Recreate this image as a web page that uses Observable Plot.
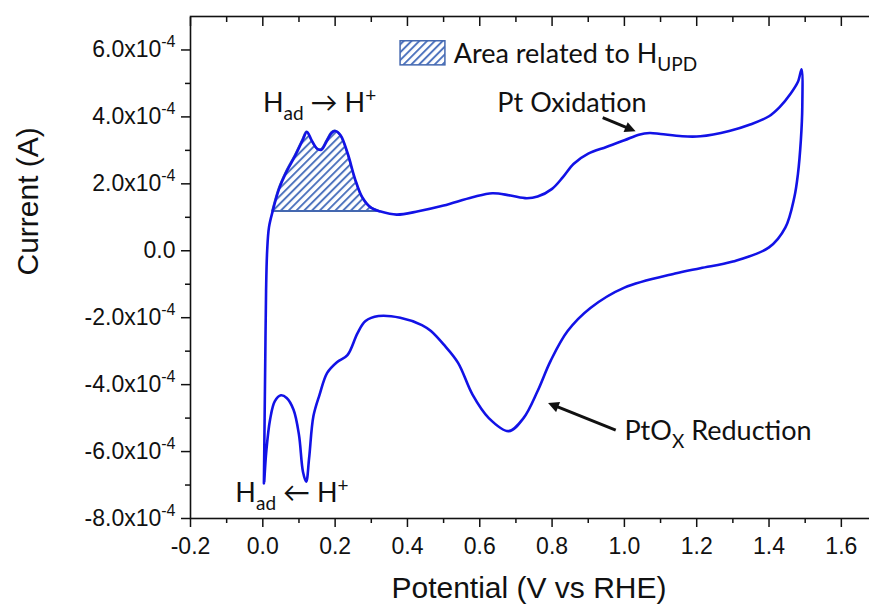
<!DOCTYPE html>
<html><head><meta charset="utf-8">
<script src="https://cdn.jsdelivr.net/npm/d3@7"></script>
<script src="https://cdn.jsdelivr.net/npm/@observablehq/plot@0.6"></script>
<style>
html,body{margin:0;padding:0;background:#fff;overflow:hidden}
#wrap{width:869px;height:607px;overflow:hidden}
#wrap svg{max-width:none !important;width:877px;height:607px}
</style></head><body><div id="wrap"></div>
<script>
// Anodic (forward) scan: potential (V vs RHE) and current (A)
const potentialAnodic = [0.003,0.005,0.007,0.009,0.012,0.017,0.027,0.045,0.065,0.09,0.11,0.122,0.135,0.15,0.162,0.177,0.19,0.2,0.215,0.235,0.255,0.275,0.3,0.326,0.37,0.43,0.5,0.58,0.635,0.685,0.73,0.76,0.8,0.83,0.86,0.9,0.95,1.0,1.04,1.07,1.1,1.16,1.21,1.29,1.35,1.4,1.43,1.46,1.48,1.49];
const currentAnodic = [-6.95e-4,-5.0e-4,-3.0e-4,-1.2e-4,0.0,0.7e-4,1.17e-4,1.85e-4,2.35e-4,2.85e-4,3.3e-4,3.55e-4,3.3e-4,3.05e-4,3.02e-4,3.28e-4,3.52e-4,3.58e-4,3.45e-4,2.9e-4,2.15e-4,1.6e-4,1.28e-4,1.17e-4,1.08e-4,1.18e-4,1.35e-4,1.6e-4,1.72e-4,1.65e-4,1.57e-4,1.62e-4,1.85e-4,2.2e-4,2.6e-4,2.9e-4,3.1e-4,3.3e-4,3.47e-4,3.52e-4,3.49e-4,3.42e-4,3.42e-4,3.58e-4,3.78e-4,4.02e-4,4.3e-4,4.7e-4,5.05e-4,5.42e-4];
// Cathodic (reverse) scan
const potentialCathodic = [1.492,1.488,1.48,1.47,1.445,1.4,1.3,1.21,1.14,1.0,0.906,0.843,0.796,0.76,0.721,0.68,0.625,0.58,0.54,0.5,0.465,0.44,0.38,0.32,0.284,0.262,0.234,0.205,0.178,0.157,0.14,0.128,0.12,0.111,0.1,0.085,0.066,0.05,0.033,0.02,0.01,0.004];
const currentCathodic = [4.3e-4,3.3e-4,2.3e-4,1.6e-4,0.69e-4,0.1e-4,-0.32e-4,-0.52e-4,-0.68e-4,-1.1e-4,-1.71e-4,-2.4e-4,-3.29e-4,-4.19e-4,-5.0e-4,-5.39e-4,-5.0e-4,-4.3e-4,-3.35e-4,-2.8e-4,-2.4e-4,-2.22e-4,-2.0e-4,-1.95e-4,-2.1e-4,-2.46e-4,-3.12e-4,-3.33e-4,-3.65e-4,-4.3e-4,-4.94e-4,-6.2e-4,-6.9e-4,-6.6e-4,-5.5e-4,-4.75e-4,-4.4e-4,-4.32e-4,-4.5e-4,-5.05e-4,-5.95e-4,-6.9e-4];
// H_UPD shaded region
const hupdBaseline = 1.17e-4;
const hupdRange = [0.027, 0.326];
// Ticks
const xMajorTicks = [-0.2,0,0.2,0.4,0.6,0.8,1.0,1.2,1.4,1.6];
const xMinorTicks = [-0.1,0.1,0.3,0.5,0.7,0.9,1.1,1.3,1.5];
const yMajorTicks = [-8e-4,-6e-4,-4e-4,-2e-4,0,2e-4,4e-4,6e-4];
const yMinorTicks = [-7e-4,-5e-4,-3e-4,-1e-4,1e-4,3e-4,5e-4];
// Annotations (centred labels, then left-aligned labels)
const centredText = ["H_{ad} → H^{+}", "Pt Oxidation"];
const centredX = [0.157, 0.855];
const centredY = [4.4e-4, 4.4e-4];
const leftText = ["PtO_{X} Reduction", "H_{ad} ← H^{+}"];
const leftX = [1.0, -0.076];
const leftY = [-5.39e-4, -7.25e-4];
const arrowX1 = [0.94, 0.976];
const arrowY1 = [3.98e-4, -5.36e-4];
const arrowX2 = [1.02, 0.8];
const arrowY2 = [3.62e-4, -4.6e-4];
// Legend
const legendLabel = ["Area related to H_{UPD}"];
const legendBoxX = [0.381, 0.505];
const legendBoxY = [5.54e-4, 6.26e-4];
const legendTextX = 0.528;
const legendTextY = 5.87e-4;

const cv = potentialAnodic.map((x, i) => ({x, y: currentAnodic[i]}))
  .concat(potentialCathodic.map((x, i) => ({x, y: currentCathodic[i]})));
const hupd = potentialAnodic.map((x, i) => ({x, y: currentAnodic[i], base: hupdBaseline}))
  .filter(d => d.x >= hupdRange[0] && d.x <= hupdRange[1]);
const centred = centredText.map((t, i) => ({t, x: centredX[i], y: centredY[i]}));
const lefts = leftText.map((t, i) => ({t, x: leftX[i], y: leftY[i]}));
const arrows = arrowX1.map((x1, i) => ({x1, y1: arrowY1[i], x2: arrowX2[i], y2: arrowY2[i]}));

const fmtX = d => (d < -1e-9 ? "-" : "") + Math.abs(d).toFixed(1);
const fmtY = d => Math.abs(d) < 1e-12 ? "0.0" : (d * 1e4).toFixed(1) + "x10^{-4}";
const none = () => "";
const ann = {fontFamily: "Lato, 'Open Sans', sans-serif", fontSize: 27, fill: "#111"};

const chart = Plot.plot({
  width: 877, height: 607,
  marginLeft: 190, marginRight: 0, marginTop: 16, marginBottom: 89,
  x: {domain: [-0.2, 1.7]},
  y: {domain: [-8e-4, 7e-4]},
  style: {fontFamily: "'Liberation Sans', Arial, sans-serif", fontSize: "23px", color: "#111", background: "#fff", maxWidth: "none"},
  marks: [
    Plot.areaY(hupd, {x: "x", y1: "base", y2: "y", curve: "catmull-rom", fill: "url(#hatch)", stroke: "#4468b0", strokeWidth: 2}),
    Plot.line(cv, {x: "x", y: "y", curve: "catmull-rom", stroke: "#1212e6", strokeWidth: 2.6}),
    Plot.frame({stroke: "#111", strokeWidth: 1.6}),
    Plot.axisX(xMajorTicks, {anchor: "bottom", tickSize: 9, tickPadding: 10, tickFormat: fmtX, label: null, strokeWidth: 1.5, fontSize: 23}),
    Plot.axisX(xMinorTicks, {anchor: "bottom", tickSize: 5, tickFormat: none, label: null, strokeWidth: 1.5}),
    Plot.axisX(xMajorTicks, {anchor: "top", tickSize: 9, dy: 9, tickFormat: none, label: null, strokeWidth: 1.5}),
    Plot.axisX(xMinorTicks, {anchor: "top", tickSize: 5, dy: 5, tickFormat: none, label: null, strokeWidth: 1.5}),
    Plot.axisY(yMajorTicks, {anchor: "left", tickSize: 9, tickPadding: 6, tickFormat: fmtY, label: null, strokeWidth: 1.5, fontSize: 23}),
    Plot.axisY(yMinorTicks, {anchor: "left", tickSize: 5, tickFormat: none, label: null, strokeWidth: 1.5}),
    Plot.axisY(yMajorTicks, {anchor: "right", tickSize: 9, dx: -9, tickFormat: none, label: null, strokeWidth: 1.5}),
    Plot.axisY(yMinorTicks, {anchor: "right", tickSize: 5, dx: -5, tickFormat: none, label: null, strokeWidth: 1.5}),
    Plot.text(["Current (A)"], {text: d => d, frameAnchor: "left", rotate: -90, dx: -162, dy: 8, fontSize: 30, fill: "#111"}),
    Plot.text(["Potential (V vs RHE)"], {text: d => d, frameAnchor: "bottom", dx: -5, dy: 79, fontSize: 30, fill: "#111"}),
    Plot.link(arrows, {x1: "x1", y1: "y1", x2: "x2", y2: "y2", stroke: "#111", strokeWidth: 3}),
    Plot.text(centred, {x: "x", y: "y", text: "t", textAnchor: "middle", ...ann}),
    Plot.text(lefts, {x: "x", y: "y", text: "t", textAnchor: "start", ...ann}),
    Plot.rect([0], {x1: () => legendBoxX[0], x2: () => legendBoxX[1], y1: () => legendBoxY[0], y2: () => legendBoxY[1], fill: "url(#hatch)", stroke: "#4468b0", strokeWidth: 1.5}),
    Plot.text(legendLabel, {x: () => legendTextX, y: () => legendTextY, text: d => d, textAnchor: "start", ...ann})
  ]
});

const svg = chart.tagName.toLowerCase() === "svg" ? chart : chart.querySelector("svg");
const NS = "http://www.w3.org/2000/svg";
const defs = d3.select(svg).insert("defs", ":first-child");
const pat = defs.append("pattern").attr("id", "hatch").attr("patternUnits", "userSpaceOnUse")
  .attr("width", 5.5).attr("height", 5.5).attr("patternTransform", "rotate(45)");
pat.append("rect").attr("width", 5.5).attr("height", 5.5).attr("fill", "#fff");
pat.append("line").attr("x1", 1).attr("y1", 0).attr("x2", 1).attr("y2", 5.5).attr("stroke", "#4a70bd").attr("stroke-width", 1.9);
defs.append("marker").attr("id", "ahead").attr("viewBox", "0 0 10 10").attr("refX", 6).attr("refY", 5)
  .attr("markerWidth", 4.2).attr("markerHeight", 3.6).attr("orient", "auto").attr("markerUnits", "strokeWidth")
  .append("path").attr("d", "M0,0 L10,5 L0,10 z").attr("fill", "#111");
d3.select(svg).selectAll('g[aria-label="link"] path').attr("marker-end", "url(#ahead)");

function rich(el, small, subShift, supShift) {
  const s = el.textContent;
  if (!/[_^]\{/.test(s)) return;
  const parts = [];
  const re = /([_^])\{([^}]*)\}|([^_^]+)/g;
  let m;
  while ((m = re.exec(s))) {
    if (m[3] !== undefined) parts.push({t: m[3], o: 0});
    else parts.push({t: m[2], o: m[1] === "_" ? subShift : -supShift, small: true});
  }
  el.textContent = "";
  let cur = 0;
  for (const p of parts) {
    const ts = document.createElementNS(NS, "tspan");
    ts.setAttribute("dy", p.o - cur);
    cur = p.o;
    if (p.small) ts.setAttribute("font-size", small);
    ts.textContent = p.t;
    el.appendChild(ts);
  }
}
d3.select(svg).selectAll("text").each(function() {
  const g = this.closest("g");
  const lab = g ? g.getAttribute("aria-label") || "" : "";
  if (lab.includes("tick label")) rich(this, 16, 8, 10);
  else rich(this, 19, 8, 10);
});
document.getElementById("wrap").appendChild(chart);
</script></body></html>
